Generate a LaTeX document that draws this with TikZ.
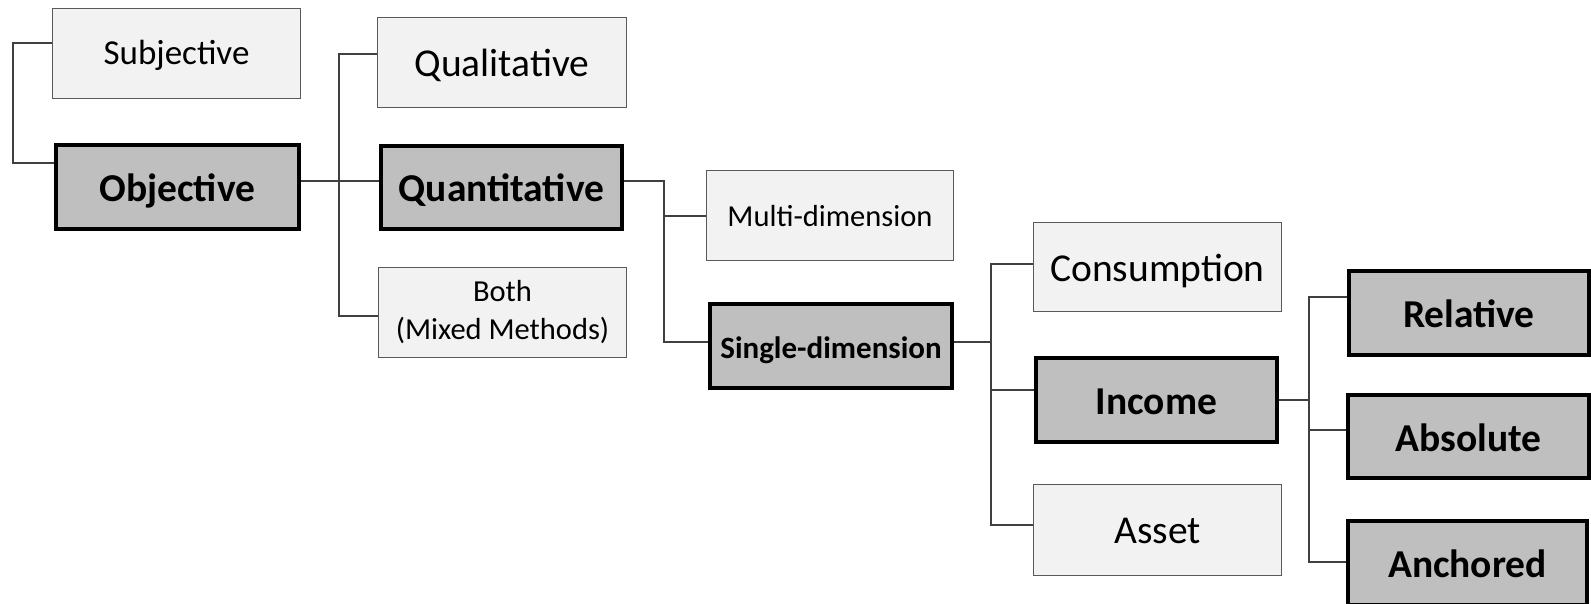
\documentclass[tikz,border=0pt]{standalone}
\usepackage{fontspec}
\setmainfont{Carlito}
\usetikzlibrary{backgrounds}
\definecolor{lightfill}{HTML}{F2F2F2}
\definecolor{darkfill}{HTML}{BFBFBF}
\definecolor{boxgray}{HTML}{595959}
\definecolor{linegray}{HTML}{404040}
\begin{document}
\begin{tikzpicture}[x=1pt,y=-1pt,
  lightbox/.style={draw=boxgray, line width=1.3pt, fill=lightfill, minimum width=248pt, minimum height=90pt, inner sep=0pt, font=\fontsize{39.5}{44}\selectfont, text height=29pt, text depth=0pt},
  darkbox/.style={draw=black, line width=4pt, fill=darkfill, minimum width=242pt, minimum height=84pt, inner sep=0pt, font=\fontsize{39.5}{44}\selectfont\bfseries, text height=29pt, text depth=0pt},
  smallfont/.style={font=\fontsize{30.5}{38}\selectfont, text height=22pt, text depth=0pt},
  conn/.style={draw=linegray, line width=1.3pt}]
\useasboundingbox (0,0) rectangle (1591,604);
% boxes
\node[lightbox, font=\fontsize{35}{40}\selectfont, text height=23pt] (subj) at (176.5,53.5) {Subjective};
\node[darkbox, minimum width=243pt] (obj) at (177.5,187) {Objective};
\node[lightbox, minimum width=249pt] (qual) at (502,62.5) {Qualitative};
\node[darkbox, minimum width=241pt, minimum height=83pt] (quant) at (501.5,187.5) {Quantitative};
\node[lightbox, font=\fontsize{30.5}{38}\selectfont, text height=, text depth=, align=center] (both) at (502.5,312.5) {Both\\(Mixed Methods)};
\node[lightbox, smallfont, minimum width=247pt] (multi) at (830,215.5) {Multi-dimension};
\node[darkbox, font=\fontsize{31}{36}\selectfont\bfseries, text height=24pt] (single) at (831,346) {Single-dimension};
\node[lightbox, minimum height=89pt] (cons) at (1157.5,267) {Consumption};
\node[darkbox, minimum width=241pt] (inc) at (1156.5,400) {Income};
\node[lightbox, minimum height=91pt, text height=27pt] (asset) at (1157.5,530) {Asset};
\node[darkbox, minimum width=240pt] (rel) at (1469,313) {Relative};
\node[darkbox, minimum width=241pt, minimum height=83pt] (abs) at (1468.5,436.5) {Absolute};
\node[darkbox, minimum width=239pt] (anch) at (1467.5,563) {Anchored};
% junction points
\coordinate (a1) at (13,43);   \coordinate (a2) at (13,163);
\coordinate (b0) at (339,181); \coordinate (b1) at (339,54);  \coordinate (b3) at (339,316);
\coordinate (c0) at (664,181); \coordinate (c1) at (664,216); \coordinate (c2) at (664,342);
\coordinate (d0) at (991,342); \coordinate (d1) at (991,264); \coordinate (d2) at (991,390); \coordinate (d3) at (991,525);
\coordinate (e0) at (1309,400); \coordinate (e1) at (1309,297); \coordinate (e2) at (1309,430); \coordinate (e3) at (1309,562);
\begin{pgfonlayer}{background}
\draw[conn] (subj.west |- a1) -- (a1) -- (a2) -- (obj.west |- a2);
\draw[conn] (obj.east |- b0) -- (quant.west |- b0);
\draw[conn] (qual.west |- b1) -- (b1) -- (b3) -- (both.west |- b3);
\draw[conn] (quant.east |- c0) -- (c0) -- (c2) -- (single.west |- c2);
\draw[conn] (c1) -- (multi.west |- c1);
\draw[conn] (single.east |- d0) -- (d0);
\draw[conn] (cons.west |- d1) -- (d1) -- (d3) -- (asset.west |- d3);
\draw[conn] (d2) -- (inc.west |- d2);
\draw[conn] (inc.east |- e0) -- (e0);
\draw[conn] (rel.west |- e1) -- (e1) -- (e3) -- (anch.west |- e3);
\draw[conn] (e2) -- (abs.west |- e2);
\end{pgfonlayer}
\end{tikzpicture}
\end{document}
